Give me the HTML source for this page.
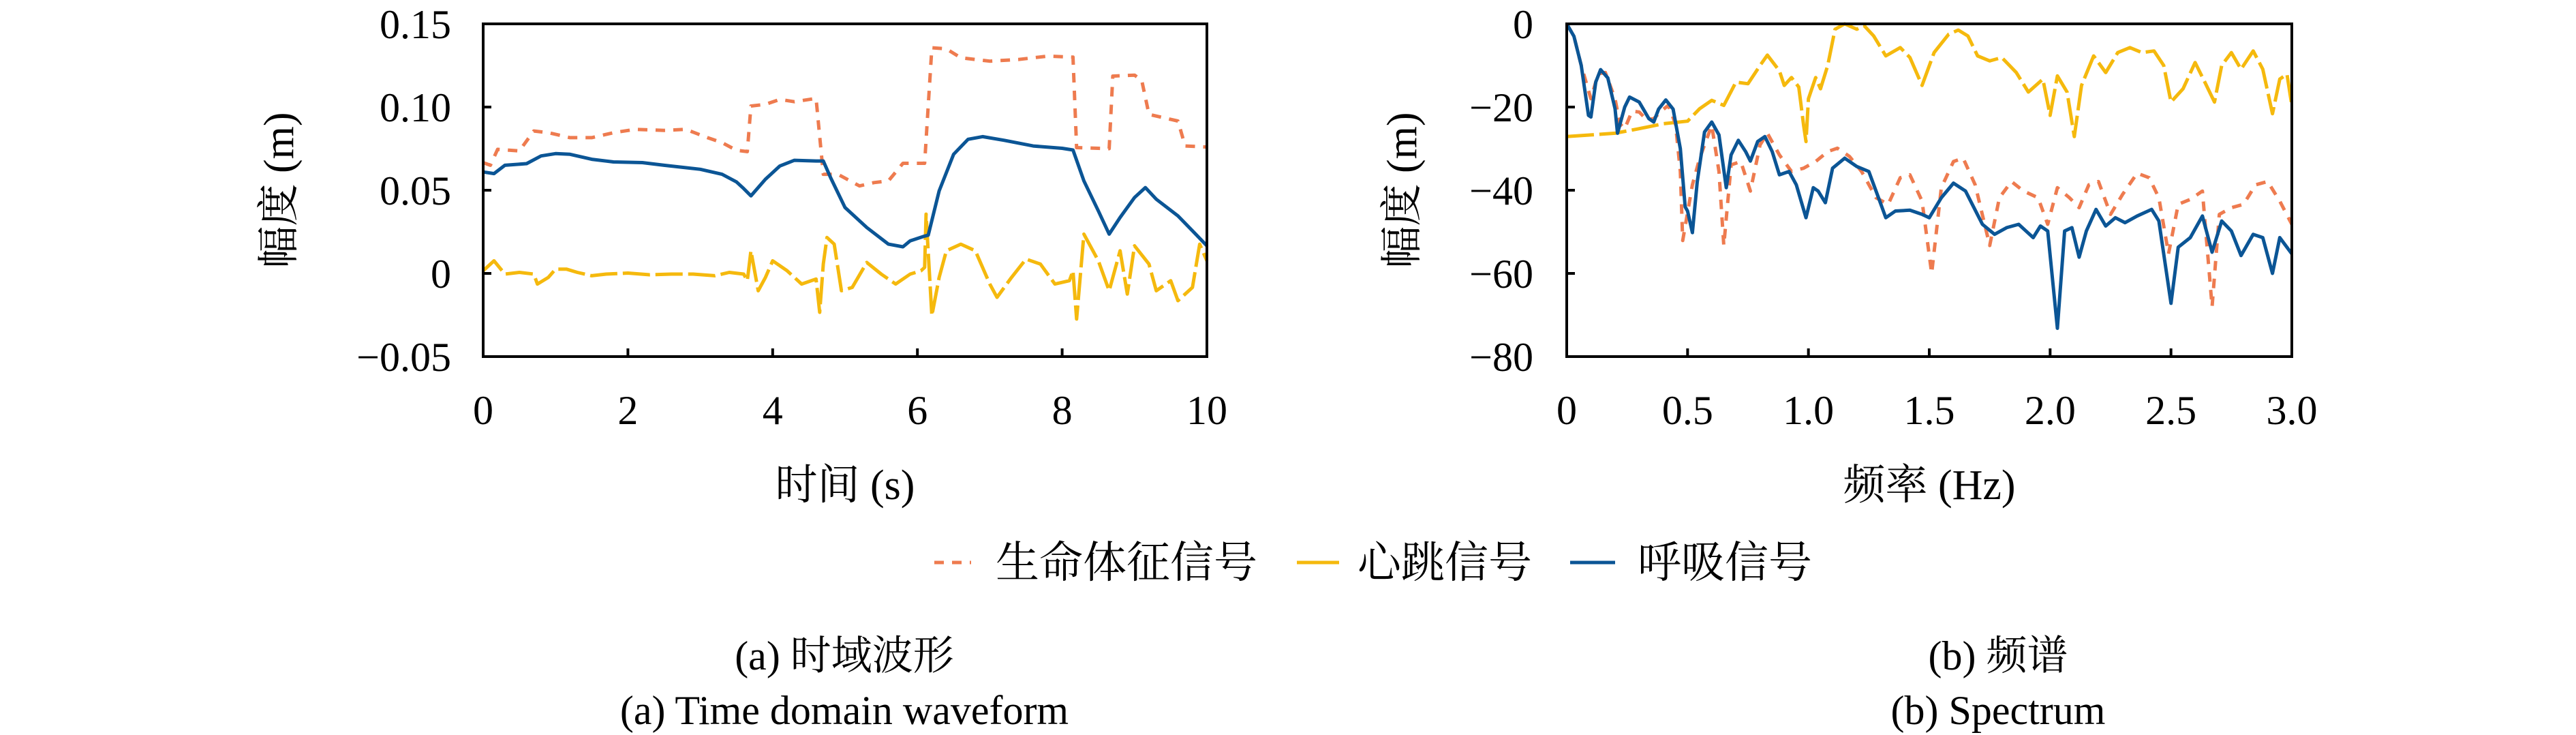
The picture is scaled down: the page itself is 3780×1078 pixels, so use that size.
<!DOCTYPE html>
<html><head><meta charset="utf-8"><style>
html,body{margin:0;padding:0;background:#fff;}
svg{display:block;}
text{font-family:"Liberation Serif","Noto Serif CJK SC","Noto Sans CJK SC",serif;fill:#000;}
</style></head><body>
<svg id="fig" width="3780" height="1078" viewBox="0 0 3780 1078" xmlns="http://www.w3.org/2000/svg">
<g id="chartA"></g>
<g id="chartB"></g>
<g id="legend">
  <line x1="1371" y1="825" x2="1425" y2="825" stroke="#ee7b4f" stroke-width="5" stroke-dasharray="14,12"/>
  <text x="1461" y="847" font-size="64">生命体征信号</text>
  <line x1="1903" y1="825" x2="1965" y2="825" stroke="#f5b90d" stroke-width="5"/>
  <text x="1992" y="847" font-size="64">心跳信号</text>
  <line x1="2304" y1="825" x2="2370" y2="825" stroke="#0b5595" stroke-width="5"/>
  <text x="2403" y="847" font-size="64">呼吸信号</text>
</g>
<text x="1239" y="982" font-size="60" text-anchor="middle">(a) 时域波形</text>
<text x="1239" y="1062" font-size="60" text-anchor="middle">(a) Time domain waveform</text>
<text x="2932" y="982" font-size="60" text-anchor="middle">(b) 频谱</text>
<text x="2932" y="1062" font-size="60" text-anchor="middle">(b) Spectrum</text>
</svg>
<script>
// ---- Chart A data (time domain) ----
const aXTicks = [0,2,4,6,8,10];
const aYTicks = [0.15,0.10,0.05,0,-0.05];
const aYTickLabels = ["0.15","0.10","0.05","0","−0.05"];
const respT = [0,0.15,0.3,0.6,0.8,1.0,1.2,1.5,1.8,2.2,2.5,3.0,3.3,3.5,3.6,3.7,3.9,4.1,4.3,4.6,4.7,4.8,5.0,5.3,5.6,5.8,5.9,6.1,6.15,6.3,6.5,6.7,6.9,7.2,7.6,8.0,8.15,8.3,8.5,8.65,8.8,9.0,9.15,9.3,9.6,9.8,10];
const respV = [0.061,0.060,0.065,0.066,0.0706,0.072,0.0716,0.0686,0.067,0.0666,0.065,0.0626,0.0596,0.055,0.051,0.0466,0.0566,0.0646,0.068,0.0676,0.0676,0.0576,0.0396,0.0276,0.0176,0.016,0.0196,0.0224,0.023,0.0496,0.0716,0.0806,0.0822,0.080,0.0766,0.0752,0.0742,0.0556,0.0376,0.0236,0.0336,0.0456,0.0516,0.0446,0.0346,0.0256,0.0166];
const vitalT = [0,0.1,0.2,0.5,0.7,0.9,1.2,1.5,1.8,2.1,2.5,2.8,3.1,3.3,3.5,3.65,3.7,3.9,4.1,4.3,4.6,4.7,4.9,5.2,5.4,5.6,5.8,6.1,6.2,6.4,6.6,7.0,7.4,7.8,8.15,8.2,8.5,8.65,8.7,9.0,9.1,9.2,9.5,9.6,9.7,10];
const vitalV = [0.0666,0.065,0.0746,0.0736,0.0856,0.0846,0.0816,0.0816,0.0846,0.0866,0.086,0.0866,0.0816,0.0786,0.074,0.0732,0.1006,0.1016,0.1046,0.1032,0.1052,0.0596,0.0596,0.0526,0.0546,0.0556,0.0662,0.0662,0.1356,0.135,0.1296,0.1276,0.1286,0.1306,0.130,0.0756,0.0752,0.075,0.1186,0.1192,0.116,0.0956,0.0926,0.0916,0.0766,0.076];
const heartT = [0,0.15,0.3,0.5,0.7,0.75,0.9,1.0,1.15,1.3,1.5,1.7,2.0,2.3,2.6,2.9,3.2,3.4,3.6,3.65,3.7,3.8,3.9,4.0,4.2,4.4,4.6,4.65,4.7,4.75,4.85,4.95,5.1,5.3,5.5,5.7,5.9,6.05,6.1,6.12,6.2,6.3,6.4,6.6,6.8,7.0,7.1,7.3,7.5,7.7,7.9,8.1,8.15,8.2,8.3,8.5,8.65,8.8,8.9,9.0,9.2,9.3,9.5,9.6,9.8,9.9,10];
const heartV = [0.0016,0.0076,-0.0004,0.0006,-0.0004,-0.0064,-0.0024,0.0026,0.0026,0.0006,-0.0014,-0.0004,0.0002,-0.0008,-0.0004,-0.0004,-0.0014,0.0006,-0.0004,-0.0044,0.0136,-0.0104,-0.0024,0.0076,0.0016,-0.0064,-0.0034,-0.0234,0.0056,0.0216,0.0176,-0.0104,-0.0084,0.0066,-0.0004,-0.0064,-0.0004,0.0016,0.0036,0.0356,-0.0254,-0.0024,0.0136,0.0176,0.0136,-0.0064,-0.0144,-0.0024,0.0086,0.0056,-0.0064,-0.0044,0.0016,-0.0274,0.0236,0.0076,-0.0104,0.0136,-0.0124,0.0166,0.0056,-0.0104,-0.0044,-0.0164,-0.0084,0.0176,0.0076];

// ---- Chart B data (spectrum) ----
const bXTicks = [0,0.5,1.0,1.5,2.0,2.5,3.0];
const bXTickLabels = ["0","0.5","1.0","1.5","2.0","2.5","3.0"];
const bYTicks = [0,-20,-40,-60,-80];
const bYTickLabels = ["0","−20","−40","−60","−80"];
const respF = [0,0.03,0.06,0.09,0.1,0.12,0.14,0.17,0.2,0.21,0.24,0.26,0.3,0.34,0.36,0.38,0.41,0.44,0.47,0.49,0.5,0.52,0.54,0.57,0.6,0.63,0.66,0.68,0.71,0.74,0.76,0.79,0.82,0.85,0.88,0.92,0.95,0.99,1.02,1.04,1.07,1.1,1.15,1.2,1.25,1.29,1.32,1.36,1.42,1.47,1.5,1.55,1.6,1.65,1.72,1.77,1.82,1.87,1.9,1.93,1.96,1.99,2.03,2.06,2.09,2.12,2.15,2.19,2.23,2.27,2.31,2.36,2.42,2.45,2.5,2.53,2.58,2.63,2.67,2.71,2.75,2.79,2.84,2.88,2.92,2.95,3.0];
const respDb = [0,-3,-10,-22,-22.4,-14,-11,-13,-20.4,-26.3,-20,-17.6,-18.8,-22.8,-23.6,-20.5,-18.3,-20.5,-30,-44,-45,-50.2,-38,-26,-23.6,-26.7,-39.4,-31.5,-28,-30.7,-33,-28.3,-27.1,-30.7,-36.3,-35.5,-38.7,-46.6,-39.4,-40.2,-43,-34.7,-32.3,-34.3,-35.5,-41.8,-46.6,-45,-44.8,-45.8,-46.6,-41.8,-38.3,-40.2,-48.2,-50.6,-49,-48.2,-49.8,-51.4,-48.6,-49.8,-73.2,-49.8,-49,-56.1,-49.8,-44.6,-48.6,-46.6,-47.8,-46.2,-44.6,-47.4,-67.2,-53.7,-51.4,-46.2,-54.9,-47.4,-49.8,-55.7,-50.6,-51.4,-60,-51.4,-55.3];
const vitalF = [0,0.03,0.06,0.1,0.13,0.16,0.2,0.22,0.24,0.27,0.3,0.33,0.36,0.39,0.42,0.45,0.47,0.48,0.52,0.55,0.6,0.63,0.65,0.68,0.72,0.76,0.8,0.83,0.88,0.93,0.98,1.03,1.08,1.12,1.17,1.22,1.28,1.33,1.38,1.42,1.47,1.51,1.55,1.6,1.64,1.69,1.75,1.79,1.84,1.89,1.95,1.99,2.03,2.08,2.12,2.16,2.2,2.25,2.3,2.36,2.41,2.45,2.49,2.53,2.58,2.63,2.67,2.7,2.75,2.8,2.85,2.9,2.95,3.0];
const vitalDb = [0,-3,-10,-18,-12,-11.7,-18,-24,-25.2,-21,-21.2,-23,-22.8,-21,-19.6,-24,-35.5,-52.1,-38.7,-32.3,-24.4,-35.5,-53.3,-33.9,-33.1,-40.2,-29.1,-26.3,-31.5,-35.5,-34.7,-33.1,-30.7,-29.9,-31.9,-35.5,-41.8,-43.4,-37,-36.3,-42.6,-60,-39.4,-33.1,-32.3,-38.7,-53.3,-41.8,-37.9,-40.2,-41.8,-48.2,-39.4,-41.8,-44.2,-38.7,-37.9,-45.8,-41,-35.9,-37,-41.8,-55.3,-43.4,-42.2,-40.2,-68,-45.8,-44.2,-43.4,-38.7,-37.9,-42.6,-48.2];
const heartF = [0,0.1,0.2,0.3,0.4,0.5,0.55,0.6,0.65,0.7,0.75,0.8,0.83,0.88,0.9,0.93,0.96,0.98,0.99,1.0,1.03,1.05,1.08,1.11,1.15,1.2,1.23,1.27,1.32,1.38,1.42,1.47,1.52,1.58,1.62,1.66,1.7,1.75,1.8,1.86,1.91,1.97,2.0,2.03,2.07,2.1,2.13,2.18,2.23,2.28,2.33,2.38,2.43,2.47,2.5,2.55,2.6,2.64,2.68,2.71,2.75,2.79,2.84,2.88,2.92,2.95,2.98,3.0];
const heartDb = [-27.1,-26.7,-26.3,-25.2,-24,-23.4,-20.4,-18.4,-19.6,-14,-14.4,-10,-7.5,-11.3,-14.8,-12.9,-15.2,-24.4,-28.3,-18,-12.9,-15.6,-10,-1.3,0,-1.3,-0.4,-2.9,-7.7,-5.7,-8.1,-14.8,-6.9,-2.5,-1.5,-2.9,-7.7,-8.9,-8.1,-11.7,-16.4,-13.3,-22,-12.5,-16.4,-27.1,-14.8,-7.7,-11.7,-6.9,-5.7,-6.9,-6.5,-10,-18.8,-15.6,-9.3,-14,-18.8,-10,-6.9,-10.9,-6.5,-10.9,-21.6,-13.3,-12.1,-19.6];

const NS = "http://www.w3.org/2000/svg";
function mk(parent, tag, attrs){const e=document.createElementNS(NS,tag);for(const k in attrs)e.setAttribute(k,attrs[k]);parent.appendChild(e);return e;}
function scale(d0,d1,r0,r1){return v=>r0+(v-d0)/(d1-d0)*(r1-r0);}

function drawSeries(g, xs, ys, sx, sy, color, dash, name){
  const pts = xs.map((x,i)=>sx(x).toFixed(1)+","+sy(ys[i]).toFixed(1)).join(" ");
  const p = mk(g,"polyline",{points:pts,fill:"none",stroke:color,"stroke-width":"5","stroke-linejoin":"round"});
  if(dash) p.setAttribute("stroke-dasharray",dash);
  
  
}

function frame(g, L, R, T, B, sx, sy, xt, xl, yt, yl, xtitle, ytitle, ytx, ylabRight){
  for(let i=0;i<xt.length;i++){
    const x=sx(xt[i]);
    const t=mk(g,"line",{x1:x,y1:B,x2:x,y2:B-12,stroke:"#000","stroke-width":"4"});
    
    
    const lb=mk(g,"text",{x:x,y:622,"font-size":"60","text-anchor":"middle"});
    lb.textContent=xl[i];
    
    
  }
  for(let i=0;i<yt.length;i++){
    const y=sy(yt[i]);
    const t=mk(g,"line",{x1:L,y1:y,x2:L+12,y2:y,stroke:"#000","stroke-width":"4"});
    
    
    const lb=mk(g,"text",{x:ylabRight,y:y+21,"font-size":"60","text-anchor":"end"});
    lb.textContent=yl[i];
    
    
  }
  const xtl=mk(g,"text",{x:(L+R)/2,y:732,"font-size":"62","text-anchor":"middle"});
  xtl.textContent=xtitle;
  
  
  const ytl=mk(g,"text",{x:0,y:0,"font-size":"62","text-anchor":"middle",transform:`translate(${ytx},${(T+B)/2}) rotate(-90)`});
  ytl.textContent=ytitle;
  
  
}
function box(g,L,R,T,B){
  const r=mk(g,"rect",{x:L,y:T,width:R-L,height:B-T,fill:"none",stroke:"#000","stroke-width":"4"});
  
  
}

// Chart A
(function(){
  const g=document.getElementById("chartA");
  const L=709,R=1771,T=35,B=523;
  const sx=scale(0,10,L,R), sy=scale(0.15,-0.05,T,B);
  frame(g,L,R,T,B,sx,sy,aXTicks,aXTicks.map(String),aYTicks,aYTickLabels,"时间 (s)","幅度 (m)",430,662);
  drawSeries(g,heartT,heartV,sx,sy,"#f5b90d","40,8","heartbeat-line");
  drawSeries(g,vitalT,vitalV,sx,sy,"#ee7b4f","14,12","vital-sign-line");
  drawSeries(g,respT,respV,sx,sy,"#0b5595",null,"respiration-line");
  box(g,L,R,T,B);
})();
// Chart B
(function(){
  const g=document.getElementById("chartB");
  const L=2299,R=3363,T=35,B=523;
  const sx=scale(0,3,L,R), sy=scale(0,-80,T,B);
  frame(g,L,R,T,B,sx,sy,bXTicks,bXTickLabels,bYTicks,bYTickLabels,"频率 (Hz)","幅度 (m)",2078,2250);
  drawSeries(g,heartF,heartDb,sx,sy,"#f5b90d","40,8","heartbeat-spectrum-line");
  drawSeries(g,vitalF,vitalDb,sx,sy,"#ee7b4f","14,12","vital-sign-spectrum-line");
  drawSeries(g,respF,respDb,sx,sy,"#0b5595",null,"respiration-spectrum-line");
  box(g,L,R,T,B);
})();
</script>
</body></html>
